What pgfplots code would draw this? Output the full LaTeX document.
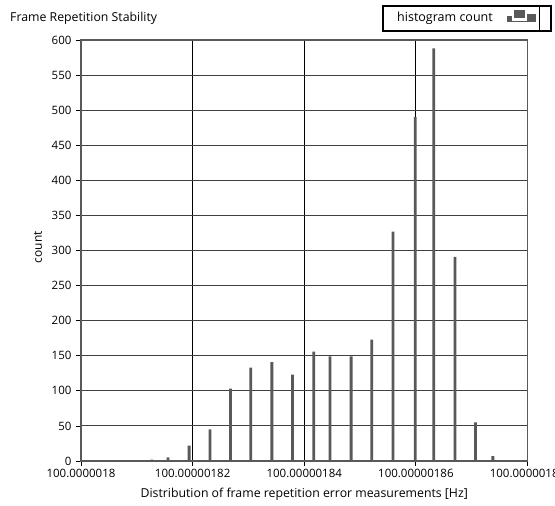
\documentclass[border=0pt]{standalone}
\usepackage{pgfplots}
\pgfplotsset{compat=1.18}
\usepackage{fontspec}
\setmainfont{Open Sans}
\pgfplotstableread{
x y
12.68 2
15.6 5
19.37 22
23.1 45
26.8 103
30.4 133
34.2 141
37.9 123
41.7 156
44.6 149
48.4 149
52.1 173
55.9 327
59.9 490
63.2 588
67.0 291
70.7 55
73.8 7
}\histdata
\begin{document}
\begin{tikzpicture}
\begin{axis}[
  scale only axis,
  width=446.5pt, height=421pt,
  at={(0,0)}, anchor=south west,
  xmin=0, xmax=80, ymin=0, ymax=600,
  xtick={0,20,40,60,80},
  xticklabels={100.0000018,100.00000182,100.00000184,100.00000186,100.00000188},
  ytick={0,50,...,600},
  yticklabel style={/pgf/number format/assume math mode=true, font=\fontsize{11.5}{13}\selectfont, xshift=-1pt},
  xticklabel style={font=\fontsize{11.5}{13}\selectfont},
  xtick pos=bottom, ytick pos=left,
  tick align=outside,
  major tick length=5pt,
  tick style={black, line width=0.8pt},
  grid=major,
  x grid style={black, line width=0.9pt},
  y grid style={black!75, line width=1pt},
  axis line style={black!65, line width=1.2pt},
  xlabel={Distribution of frame repetition error measurements [Hz]},
  ylabel={count},
  xlabel style={font=\fontsize{12.3}{14}\selectfont, at={(axis description cs:0.5,-0.0784)}, anchor=center},
  ylabel style={font=\fontsize{12}{14}\selectfont, at={(axis description cs:-0.0963,0.508)}, anchor=center, rotate=0},
  clip=false,
  axis on top=false,
]
\addplot[ybar, bar width=2.8pt, fill=black!65, draw=none] table[x=x,y=y] {\histdata};
\end{axis}
% title
\node[anchor=west, font=\fontsize{12.3}{14}\selectfont, inner sep=0pt] at (-71pt,443pt) {Frame Repetition Stability};
% legend box
\draw[black, line width=1.8pt] (301.7pt,455.3pt) rectangle (470pt,430.3pt);
\draw[black, line width=1pt] (458.3pt,455.3pt) -- (458.3pt,430.3pt);
\node[anchor=center, font=\fontsize{12.5}{14}\selectfont, inner sep=0pt] at (364pt,443pt) {histogram count};
\fill[black!65] (426pt,439pt) rectangle (431pt,445pt);
\fill[black!65] (433pt,443pt) rectangle (444pt,450.5pt);
\fill[black!65] (446pt,439pt) rectangle (455pt,447pt);
\fill[black!65] (431pt,439pt) rectangle (446pt,440pt);
\pgfresetboundingbox
\path (-81pt,-45pt) rectangle (474pt,461pt);
\end{tikzpicture}
\end{document}
